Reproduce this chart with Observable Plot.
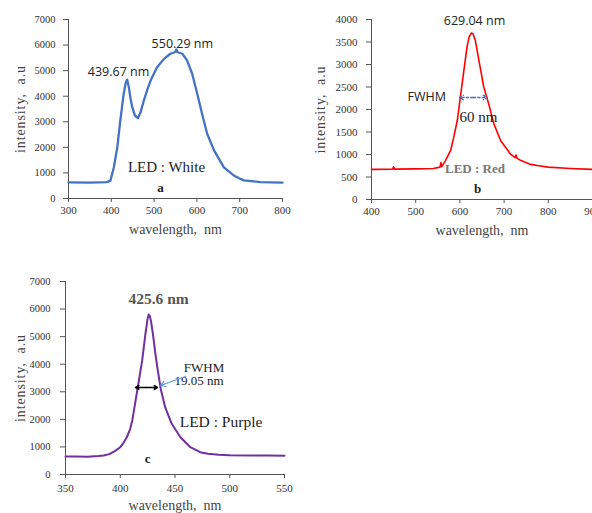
<!DOCTYPE html>
<html>
<head>
<meta charset="utf-8">
<script src="https://cdn.jsdelivr.net/npm/d3@7"></script>
<script src="https://cdn.jsdelivr.net/npm/@observablehq/plot@0.6"></script>
<style>
  html, body { margin: 0; padding: 0; background: #fff; }
  #wrap { position: relative; width: 592px; height: 513px; overflow: hidden; background: #fff; }
  #wrap > div, #wrap > svg { position: absolute; }
</style>
</head>
<body>
<div id="wrap"></div>
<script>
// ---- Panel a: White LED ----
const whiteWavelength = [300,350,390,398,406,414,421,429,434,437,441,445,449,455,462,468,476,484,492,507,523,538,550,552,555,566,577,589,601,612,624,640,663,686,700,710,748,800];
const whiteIntensity  = [630,620,640,700,1220,2000,3050,4100,4550,4650,4350,3900,3570,3250,3140,3350,3830,4250,4620,5130,5460,5660,5730,5830,5720,5660,5400,4880,4090,3310,2530,1880,1220,900,780,710,640,620];

// ---- Panel b: Red LED ----
const redWavelength = [400,448,450,452,500,540,555,557,559,567,579,586,594,601,609,616,621,626,630,635,643,654,665,677,692,714,725,727,729,737,760,775,800,850,900];
const redIntensity  = [670,675,730,675,680,690,720,820,730,860,1090,1380,1750,2270,2870,3380,3620,3700,3680,3530,3090,2500,2130,1680,1310,1015,930,990,920,870,780,755,720,690,670];

// ---- Panel c: Purple LED ----
const purpleWavelength = [350,360,370,380,385,390,395,400,403,406,409,411,414,417,420,423,425,426,427,428,430,432,434,437,441,447,455,464,473,480,490,500,520,535,550];
const purpleIntensity  = [650,650,640,670,690,740,850,990,1150,1350,1650,1960,2680,3400,4130,5100,5650,5800,5750,5580,5050,4400,3850,3100,2440,1840,1350,990,810,750,720,700,690,690,680];

// tick labels
const xTicksA = [300,400,500,600,700,800];
const yTicksA = [0,1000,2000,3000,4000,5000,6000,7000];
const xTicksB = [400,500,600,700,800,900];
const yTicksB = [0,500,1000,1500,2000,2500,3000,3500,4000];
const xTicksC = [350,400,450,500,550];
const yTicksC = [0,1000,2000,3000,4000,5000,6000,7000];

// annotations (data coordinates)
const annotA = [
  {x: 417, y: 4810, text: "439.67 nm", font: "sans", size: 12.5, weight: "normal", fill: "#222"},
  {x: 566, y: 5905, text: "550.29 nm", font: "sans", size: 12.5, weight: "normal", fill: "#222"},
  {x: 529, y: 1017, text: "LED : White", font: "serif", size: 15, weight: "normal", fill: "#222"},
  {x: 515, y: 235, text: "a", font: "serif", size: 13, weight: "bold", fill: "#222"}
];
const annotB = [
  {x: 633, y: 3867, text: "629.04 nm", font: "sans", size: 12.5, weight: "normal", fill: "#222"},
  {x: 525, y: 2178, text: "FWHM", font: "sans", size: 12.5, weight: "normal", fill: "#222"},
  {x: 642, y: 1733, text: "60 nm", font: "serif", size: 15, weight: "normal", fill: "#222"},
  {x: 634, y: 600, text: "LED : Red", font: "serif", size: 13, weight: "bold", fill: "#777"},
  {x: 640, y: 155, text: "b", font: "serif", size: 13, weight: "bold", fill: "#222"}
];
const annotC = [
  {x: 435, y: 6202, text: "425.6 nm", font: "serif", size: 15.5, weight: "bold", fill: "#555"},
  {x: 476.5, y: 3700, text: "FWHM", font: "serif", size: 13, weight: "normal", fill: "#222"},
  {x: 472, y: 3228, text: "19.05 nm", font: "serif", size: 13, weight: "normal", fill: "#222"},
  {x: 492, y: 1705, text: "LED : Purple", font: "serif", size: 15.5, weight: "normal", fill: "#222"},
  {x: 425, y: 435, text: "c", font: "serif", size: 13, weight: "bold", fill: "#222"}
];
// arrows
const arrowsB = [ // dashed blue double arrow (two halves from centre)
  {x1: 630, y1: 2267, x2: 599, y2: 2267},
  {x1: 630, y1: 2267, x2: 662, y2: 2267}
];
const arrowsC = [
  {x1: 424, y1: 3156, x2: 414, y2: 3156},
  {x1: 424, y1: 3156, x2: 434, y2: 3156}
];
const pointerC = [{x1: 459.6, y1: 3555, x2: 436.8, y2: 3228}];

const SERIF = "'Liberation Serif', 'Times New Roman', serif";
const SANS = "'Open Sans', 'Liberation Sans', sans-serif";

function panel({xs, ys, color, lw, xDomain, yDomain, xTicks, yTicks, width, height, ml, mr, mt, mb, yPad, yFont, xPad, annots, extra = []}) {
  const data = xs.map((x, i) => ({x, y: ys[i]}));
  const textMarks = annots.map(a => Plot.text([a], {
    x: "x", y: "y", text: "text", lineAnchor: "bottom", textAnchor: "middle",
    fontFamily: a.font === "serif" ? SERIF : SANS, fontSize: a.size, fontWeight: a.weight, fill: a.fill
  }));
  const svg = Plot.plot({
    width, height,
    marginLeft: ml, marginRight: mr, marginTop: mt, marginBottom: mb,
    style: {fontFamily: SERIF, background: "transparent", overflow: "visible"},
    x: {domain: xDomain},
    y: {domain: yDomain},
    marks: [
      Plot.axisY({ticks: yTicks, tickSize: 5, tickPadding: yPad, fontSize: yFont, fill: "#333", stroke: "#555", label: null, tickFormat: d => String(d), fontFamily: SERIF}),
      Plot.axisX({ticks: xTicks, tickSize: 4, tickPadding: xPad, fontSize: 11, fill: "#333", stroke: "#555", label: null, tickFormat: d => String(d), fontFamily: SERIF}),
      Plot.ruleX([xDomain[0]], {stroke: "#555"}),
      Plot.ruleY([yDomain[0]], {stroke: "#555"}),
      Plot.line(data, {x: "x", y: "y", stroke: color, strokeWidth: lw, curve: "linear"}),
      Plot.text(["intensity,  a.u"], {frameAnchor: "left", dx: -(ml - 20), rotate: -90, fontSize: 14, fill: "#444", fontFamily: SERIF, textAnchor: "middle"}),
      Plot.text(["wavelength,  nm"], {frameAnchor: "bottom", dy: 35, fontSize: 14, fill: "#444", fontFamily: SERIF, lineAnchor: "bottom"}),
      ...textMarks,
      ...extra
    ]
  });
  d3.select(svg).selectAll("text").filter(function() { return this.textContent === "intensity,  a.u"; })
    .style("letter-spacing", "0.9px").style("white-space", "pre");
  d3.select(svg).selectAll("text").filter(function() { return this.textContent === "wavelength,  nm"; })
    .style("white-space", "pre");
  return svg;
}

const wrap = document.getElementById("wrap");

const pa = panel({xs: whiteWavelength, ys: whiteIntensity, color: "#4472C4", lw: 2.3, xDomain: [300, 800], yDomain: [0, 7000],
  xTicks: xTicksA, yTicks: yTicksA, width: 300, height: 245, ml: 68, mr: 18, mt: 19, mb: 47, yPad: 8, yFont: 10.5, xPad: 4, annots: annotA});
pa.style.left = "0px"; pa.style.top = "0px";
wrap.appendChild(pa);

const pb = panel({xs: redWavelength, ys: redIntensity, color: "#FF0000", lw: 1.6, xDomain: [400, 900], yDomain: [0, 4000],
  xTicks: xTicksB, yTicks: yTicksB, width: 300, height: 245, ml: 71, mr: 8, mt: 19, mb: 46, yPad: 9, yFont: 11, xPad: 4, annots: annotB,
  extra: [Plot.arrow(arrowsB, {x1: "x1", y1: "y1", x2: "x2", y2: "y2", stroke: "#4472C4", strokeWidth: 1.3, strokeDasharray: "2.5,2", headLength: 7, bend: 0})]});
pb.style.left = "300px"; pb.style.top = "0px";
wrap.appendChild(pb);

const pc = panel({xs: purpleWavelength, ys: purpleIntensity, color: "#7030A0", lw: 2, xDomain: [350, 550], yDomain: [0, 7000],
  xTicks: xTicksC, yTicks: yTicksC, width: 300, height: 260, ml: 65, mr: 16, mt: 21, mb: 46, yPad: 10, yFont: 10.5, xPad: 6, annots: annotC,
  extra: [
    Plot.arrow(arrowsC, {x1: "x1", y1: "y1", x2: "x2", y2: "y2", stroke: "#000", strokeWidth: 1.6, headLength: 7, bend: 0}),
    Plot.arrow(pointerC, {x1: "x1", y1: "y1", x2: "x2", y2: "y2", stroke: "#5B9BD5", strokeWidth: 1.2, headLength: 7, bend: 0})
  ]});
pc.style.left = "0px"; pc.style.top = "260px";
wrap.appendChild(pc);
</script>
</body>
</html>
